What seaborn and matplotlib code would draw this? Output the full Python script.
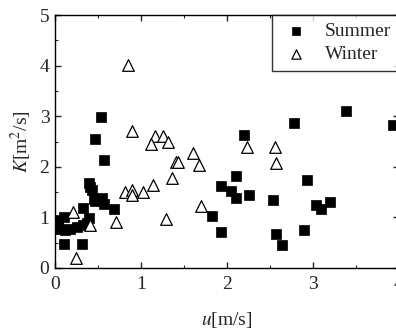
import matplotlib
matplotlib.use("Agg")
import matplotlib.pyplot as plt
import seaborn as sns
import pandas as pd
from matplotlib.ticker import MultipleLocator

summer_u = [0.46, 0.57, 0.39, 0.41, 0.43, 0.45, 0.47, 0.55, 0.57, 0.69, 0.32, 0.10,
            0.04, 0.03, 0.06, 0.12, 0.17, 0.25, 0.33, 0.37, 0.40, 0.10, 0.31, 0.54,
            1.93, 2.05, 2.11, 2.11, 1.83, 1.93, 2.20, 2.25, 2.54, 2.57, 2.64, 2.93,
            2.89, 3.04, 3.09, 3.20, 2.78, 3.38, 3.93]
summer_K = [2.54, 2.13, 1.67, 1.60, 1.54, 1.36, 1.33, 1.38, 1.26, 1.17, 1.19, 1.00,
            0.95, 0.85, 0.78, 0.75, 0.78, 0.82, 0.85, 0.88, 0.98, 0.47, 0.47, 2.99,
            1.62, 1.52, 1.38, 1.82, 1.03, 0.72, 2.63, 1.44, 1.34, 0.68, 0.45, 1.74,
            0.76, 1.25, 1.16, 1.31, 2.86, 3.10, 2.82]

winter_u = [0.85, 0.89, 1.16, 1.25, 1.12, 1.31, 1.41, 1.43, 1.61, 1.67, 1.36, 1.14,
            0.81, 0.90, 0.90, 1.02, 1.70, 1.29, 0.71, 0.41, 0.21, 0.24, 2.23, 2.56, 2.57]
winter_K = [4.01, 2.71, 2.61, 2.61, 2.45, 2.50, 2.10, 2.09, 2.27, 2.04, 1.77, 1.64,
            1.51, 1.54, 1.44, 1.51, 1.23, 0.96, 0.90, 0.85, 1.11, 0.19, 2.40, 2.40, 2.07]

sns.set_style("ticks")
plt.rcParams['font.family'] = ['Liberation Serif', 'DejaVu Serif']
plt.rcParams['mathtext.fontset'] = 'stix'
plt.rcParams['font.size'] = 14

fig = plt.figure(figsize=(3.96, 3.30), dpi=100)
ax = fig.add_axes([55/396, 62/330, 344/396, 253/330])

sns.scatterplot(x=summer_u, y=summer_K, ax=ax, marker='s', s=55, color='black',
                edgecolor='black', linewidth=0.5, label='Summer')
sns.scatterplot(x=winter_u, y=winter_K, ax=ax, marker='^', s=70, facecolor='white',
                edgecolor='black', linewidth=0.9, label='Winter')

ax.set_xlim(0, 4)
ax.set_ylim(0, 5)
ax.xaxis.set_major_locator(MultipleLocator(1))
ax.xaxis.set_minor_locator(MultipleLocator(0.5))
ax.yaxis.set_major_locator(MultipleLocator(1))
ax.yaxis.set_minor_locator(MultipleLocator(0.5))
ax.tick_params(which='both', direction='in', top=True, right=True, labelsize=14)
ax.tick_params(axis='x', which='both', pad=6)
ax.tick_params(axis='y', which='both', pad=4)
ax.tick_params(which='major', length=4, width=1)
ax.tick_params(which='minor', length=2, width=0.8)
for sp in ax.spines.values():
    sp.set_color('black')
    sp.set_linewidth(1)

ax.set_xlabel(r'$u$[m/s]', fontsize=14, labelpad=12)
ax.set_ylabel(r'$K$[m$^2$/s]', fontsize=14, labelpad=4)

leg = ax.legend(loc='upper right', frameon=True, fancybox=False, borderaxespad=0,
                fontsize=14, handletextpad=0.7, borderpad=0.4, labelspacing=0.25,
                handlelength=1.6, markerscale=0.8)
leg.get_frame().set_edgecolor('black')
leg.get_frame().set_linewidth(1)

fig.savefig('out.png', dpi=100)
